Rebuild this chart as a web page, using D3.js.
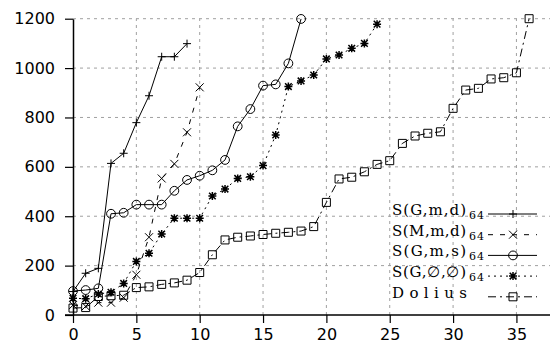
<!DOCTYPE html>
<html><head><meta charset="utf-8">
<script src="https://cdn.jsdelivr.net/npm/d3@7"></script>
<style>
html,body{margin:0;padding:0;background:#fff;}
svg{display:block;}
</style></head>
<body>
<svg id="chart" width="550" height="352"></svg>
<script>
// ---- data ----
const xTicks = [0, 5, 10, 15, 20, 25, 30, 35];
const yTicks = [0, 200, 400, 600, 800, 1000, 1200];

const sGmd = [95, 169, 189, 614, 655, 779, 888, 1046, 1046, 1099];
const sMmd = [40, 35, 50, 50, 70, 163, 315, 553, 612, 740, 922];
const sGms = [97, 101, 108, 410, 414, 447, 447, 447, 503, 547, 564, 586, 628, 764, 834, 929, 934, 1019, 1199];
const sGee = [68, 66, 85, 92, 128, 217, 250, 328, 392, 392, 392, 482, 510, 553, 560, 605, 729, 925, 948, 972, 1037, 1053, 1080, 1100, 1178];
const dolius = [28, 30, 75, 78, 80, 111, 114, 124, 130, 141, 172, 244, 304, 315, 320, 326, 331, 335, 340, 358, 456, 551, 558, 580, 610, 625, 695, 725, 736, 742, 837, 911, 918, 956, 961, 981, 1200];

const seriesNames = ["S(G,m,d)", "S(M,m,d)", "S(G,m,s)", "S(G,\u2205,\u2205)", "Dolius"];
const seriesSubs = ["64", "64", "64", "64", ""];
const seriesData = [sGmd, sMmd, sGms, sGee, dolius];
const seriesMarker = ["plus", "cross", "circle", "star", "square"];
const seriesDash = [null, "5,7", null, "2,4", "8,4,2,4"];

// ---- layout ----
const svg = d3.select("#chart");
const x = d3.scaleLinear().domain([0, 37.65]).range([73, 550]);
const y = d3.scaleLinear().domain([0, 1200]).range([315, 18.7]);
const gridColor = "#a0a0a0";

// grid
const grid = svg.append("g");
grid.selectAll("line.hg").data(yTicks.filter(d => d > 0)).enter().append("line")
  .attr("x1", x(0)).attr("x2", 550)
  .attr("y1", d => y(d)).attr("y2", d => y(d))
  .attr("stroke", gridColor).attr("stroke-width", 1).attr("stroke-dasharray", "3,4");
grid.selectAll("line.vg").data(xTicks.filter(d => d > 0)).enter().append("line")
  .attr("x1", d => x(d)).attr("x2", d => x(d))
  .attr("y1", y(0)).attr("y2", y(1200))
  .attr("stroke", gridColor).attr("stroke-width", 1).attr("stroke-dasharray", "3,4");

// axes
const xAxis = d3.axisBottom(x).tickValues(xTicks).tickFormat(d3.format("d")).tickSize(8).tickSizeOuter(0).tickPadding(6);
const yAxis = d3.axisLeft(y).tickValues(yTicks).tickFormat(d3.format("d")).tickSize(8).tickSizeOuter(0).tickPadding(10);
const gx = svg.append("g").attr("transform", `translate(0,${y(0)})`).call(xAxis);
const gy = svg.append("g").attr("transform", `translate(${x(0)},0)`).call(yAxis);
[gx, gy].forEach(g => {
  g.select(".domain").attr("stroke", "#000").attr("stroke-width", 1.5);
  g.selectAll(".tick line").attr("stroke", "#000").attr("stroke-width", 1.2);
  g.selectAll(".tick text").attr("fill", "#000")
    .style("font-family", "'DejaVu Sans', sans-serif").style("font-size", "16px");
});
gx.select(".domain").attr("d", `M${x(0) - 8},0H550`);

// marker paths
function markerPath(type, cx, cy) {
  const s = 4;
  switch (type) {
    case "plus": return `M${cx - s},${cy}H${cx + s}M${cx},${cy - s}V${cy + s}`;
    case "cross": return `M${cx - s},${cy - s}L${cx + s},${cy + s}M${cx - s},${cy + s}L${cx + s},${cy - s}`;
    case "star": {
      const t = 3.3;
      return `M${cx - s},${cy}H${cx + s}M${cx},${cy - s}V${cy + s}` +
        `M${cx - t},${cy - t}L${cx + t},${cy + t}M${cx - t},${cy + t}L${cx + t},${cy - t}`;
    }
    case "square": return `M${cx - 4},${cy - 4}h8v8h-8z`;
    case "circle": {
      const r = 4.4;
      return `M${cx - r},${cy}a${r},${r} 0 1,0 ${2 * r},0a${r},${r} 0 1,0 ${-2 * r},0z`;
    }
  }
}

const line = d3.line().x((d, i) => x(i)).y(d => y(d));
const plot = svg.append("g");
seriesData.forEach((data, k) => {
  plot.append("path").datum(data)
    .attr("d", line).attr("fill", "none").attr("stroke", "#000").attr("stroke-width", 1)
    .attr("stroke-dasharray", seriesDash[k]);
  plot.selectAll(null).data(data).enter().append("path")
    .attr("d", (d, i) => markerPath(seriesMarker[k], x(i), y(d)))
    .attr("fill", "none").attr("stroke", "#000")
    .attr("stroke-width", seriesMarker[k] === "star" ? 1.5 : 1);
});

// legend
const legend = svg.append("g");
const lgTextX = 392, lgLineX1 = 488, lgLineX2 = 537, lgMarkX = 513;
const lgY0 = 214, lgStep = 20.7;
seriesNames.forEach((name, k) => {
  const ly = lgY0 + k * lgStep;
  const t = legend.append("text").attr("x", lgTextX).attr("y", ly + 1)
    .attr("fill", "#000")
    .style("font-family", "'DejaVu Serif', serif")
    .style("font-size", "15px");
  t.append("tspan").attr("textLength", seriesSubs[k] ? 74 : 75).attr("lengthAdjust", "spacing").text(name);
  if (seriesSubs[k]) {
    t.append("tspan").attr("x", lgTextX + 77).attr("dy", 4).style("font-size", "11px")
      .attr("textLength", 15).attr("lengthAdjust", "spacing").text(seriesSubs[k]);
  }
  legend.append("line").attr("x1", lgLineX1).attr("x2", lgLineX2).attr("y1", ly).attr("y2", ly)
    .attr("stroke", "#000").attr("stroke-width", 1).attr("stroke-dasharray", seriesDash[k]);
  legend.append("path").attr("d", markerPath(seriesMarker[k], lgMarkX, ly))
    .attr("fill", "none").attr("stroke", "#000")
    .attr("stroke-width", seriesMarker[k] === "star" ? 1.5 : 1);
});
</script>
</body></html>
